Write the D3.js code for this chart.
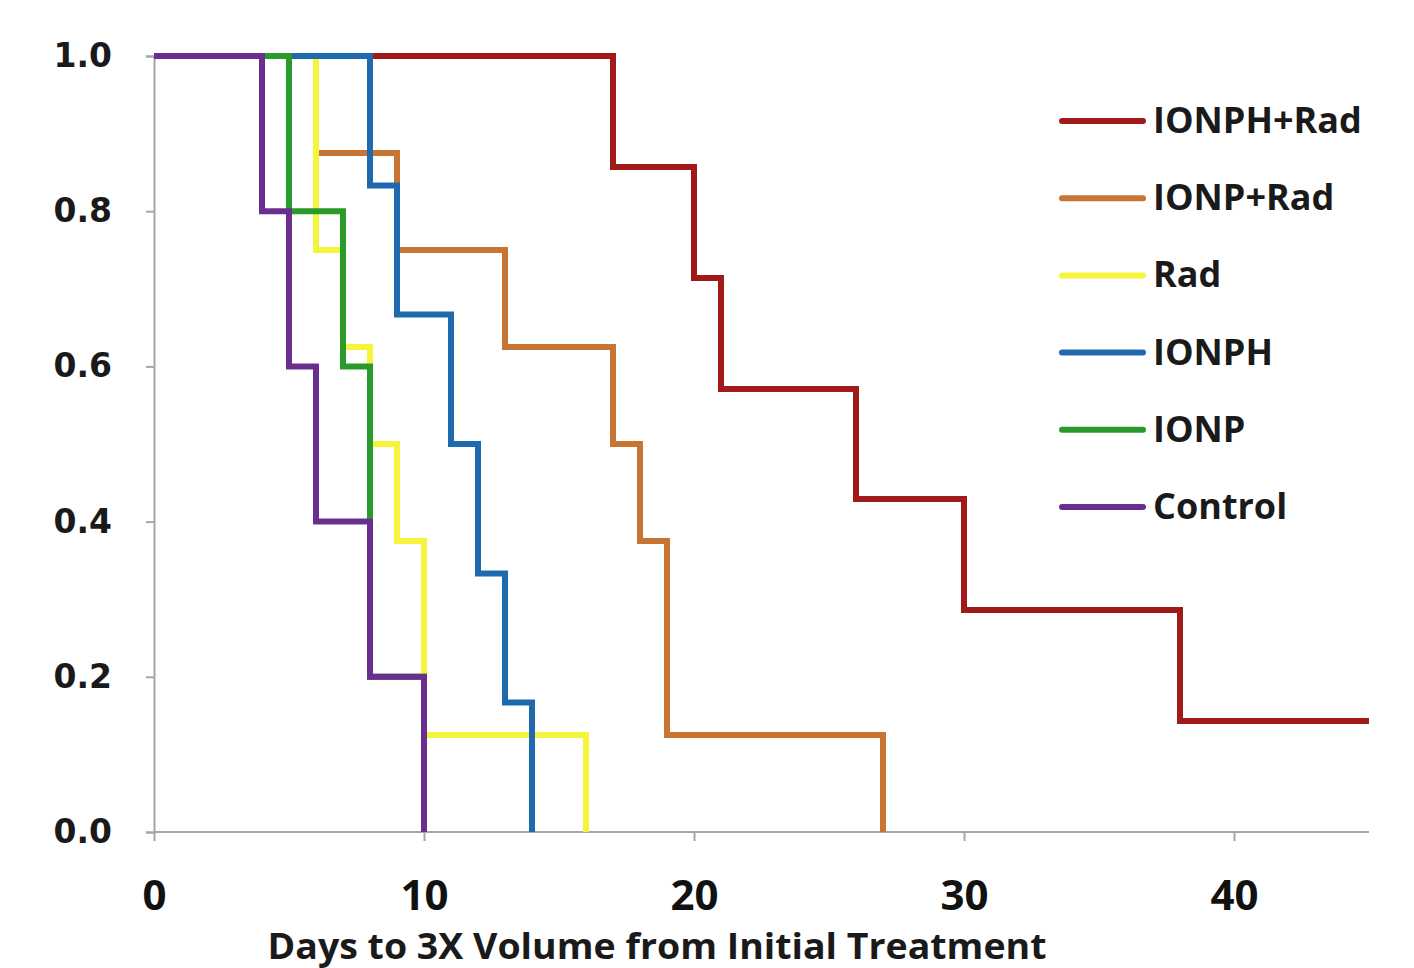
<!DOCTYPE html>
<html>
  <head>
    <meta charset="utf-8" />
    <title>Days to 3X Volume</title>
    <script src="https://d3js.org/d3.v7.min.js"></script>
    <style>
      body { margin: 0; background: #fff; }
    </style>
  </head>
  <body>
    <div id="chart"></div>
    <script>
      // series names, in plotting order (later ones are drawn on top)
      var seriesNames = ["IONPH+Rad", "IONP+Rad", "Rad", "IONPH", "IONP", "Control"];
      var seriesColors = ["#a01a1a", "#c87533", "#f4f43c", "#1f6aae", "#2a9a2a", "#6a2e8f"];

      // step points: day of each drop and fraction remaining after it
      var daysIonphRad = [0, 17, 20, 21, 26, 30, 38, 45];
      var survIonphRad = [1, 0.857, 0.714, 0.571, 0.429, 0.286, 0.143, 0.143];
      var daysIonpRad = [0, 6, 9, 13, 17, 18, 19, 27];
      var survIonpRad = [1, 0.875, 0.75, 0.625, 0.5, 0.375, 0.125, 0];
      var daysRad = [0, 6, 7, 8, 9, 10, 16];
      var survRad = [1, 0.75, 0.625, 0.5, 0.375, 0.125, 0];
      var daysIonph = [0, 8, 9, 11, 12, 13, 14];
      var survIonph = [1, 0.833, 0.667, 0.5, 0.333, 0.167, 0];
      var daysIonp = [0, 5, 7, 8, 10];
      var survIonp = [1, 0.8, 0.6, 0.2, 0];
      var daysControl = [0, 4, 5, 6, 8, 10];
      var survControl = [1, 0.8, 0.6, 0.4, 0.2, 0];

      var xTicks = [0, 10, 20, 30, 40];
      var yTicks = [0, 0.2, 0.4, 0.6, 0.8, 1.0];
      var xTitle = "Days to 3X Volume from Initial Treatment";

      var allDays = [daysIonphRad, daysIonpRad, daysRad, daysIonph, daysIonp, daysControl];
      var allSurv = [survIonphRad, survIonpRad, survRad, survIonph, survIonp, survControl];

      var series = seriesNames.map(function (name, i) {
        return {
          name: name,
          color: seriesColors[i],
          points: allDays[i].map(function (d, j) {
            return { day: d, surv: allSurv[i][j] };
          }),
        };
      });

      var width = 1414,
        height = 968;

      var svg = d3
        .select("#chart")
        .append("svg")
        .attr("width", width)
        .attr("height", height);

      var x = d3.scaleLinear().domain([0, 45]).range([154, 1369]);
      var y = d3.scaleLinear().domain([0, 1]).range([832, 56]);

      var axisGrey = "#a6a6a6";

      // y axis
      var yAxis = svg
        .append("g")
        .attr("transform", "translate(" + x(0) + ",0)")
        .call(
          d3
            .axisLeft(y)
            .tickValues(yTicks)
            .tickSize(8)
            .tickPadding(34)
            .tickFormat(d3.format(".1f"))
        );
      yAxis.select(".domain").attr("stroke", axisGrey).attr("stroke-width", 2);
      yAxis.selectAll(".tick line").attr("stroke", axisGrey).attr("stroke-width", 2);
      yAxis
        .selectAll(".tick text")
        .attr("fill", "#1a1a1a")
        .style("font-family", "'DejaVu Sans', Verdana, sans-serif")
        .style("font-weight", "bold")
        .style("font-size", "33px");

      // x axis
      var xAxis = svg
        .append("g")
        .attr("transform", "translate(0," + y(0) + ")")
        .call(d3.axisBottom(x).tickValues(xTicks).tickSize(9).tickPadding(39));
      xAxis
        .select(".domain")
        .attr("d", "M" + x(0) + ",0H" + x(45))
        .attr("stroke", axisGrey)
        .attr("stroke-width", 2);
      xAxis.selectAll(".tick line").attr("stroke", axisGrey).attr("stroke-width", 2);
      xAxis
        .selectAll(".tick text")
        .attr("fill", "#111")
        .style("font-family", "'Open Sans', sans-serif")
        .style("font-weight", "bold")
        .style("font-size", "42px");

      svg
        .append("text")
        .attr("x", 657)
        .attr("y", 959)
        .attr("text-anchor", "middle")
        .attr("textLength", 779)
        .attr("lengthAdjust", "spacingAndGlyphs")
        .attr("fill", "#1a1a1a")
        .style("font-family", "'Open Sans', sans-serif")
        .style("font-weight", "bold")
        .style("font-size", "35px")
        .text(xTitle);

      // step lines
      var line = d3
        .line()
        .curve(d3.curveStepAfter)
        .x(function (d) {
          return x(d.day);
        })
        .y(function (d) {
          return y(d.surv);
        });

      svg
        .append("g")
        .selectAll("path")
        .data(series)
        .enter()
        .append("path")
        .attr("d", function (d) {
          return line(d.points);
        })
        .attr("fill", "none")
        .attr("stroke", function (d) {
          return d.color;
        })
        .attr("stroke-width", 6)
        .attr("stroke-linejoin", "miter");

      // legend
      var legend = svg
        .append("g")
        .selectAll("g")
        .data(series)
        .enter()
        .append("g")
        .attr("transform", function (d, i) {
          return "translate(1062," + (121 + i * 77.2) + ")";
        });

      legend
        .append("line")
        .attr("x1", 0)
        .attr("x2", 81)
        .attr("stroke", function (d) {
          return d.color;
        })
        .attr("stroke-width", 6)
        .attr("stroke-linecap", "round");

      legend
        .append("text")
        .attr("x", 91)
        .attr("y", 12)
        .attr("fill", "#1a1a1a")
        .style("font-family", "'Open Sans', sans-serif")
        .style("font-weight", "bold")
        .style("font-size", "36px")
        .text(function (d) {
          return d.name;
        });
    </script>
  </body>
</html>
